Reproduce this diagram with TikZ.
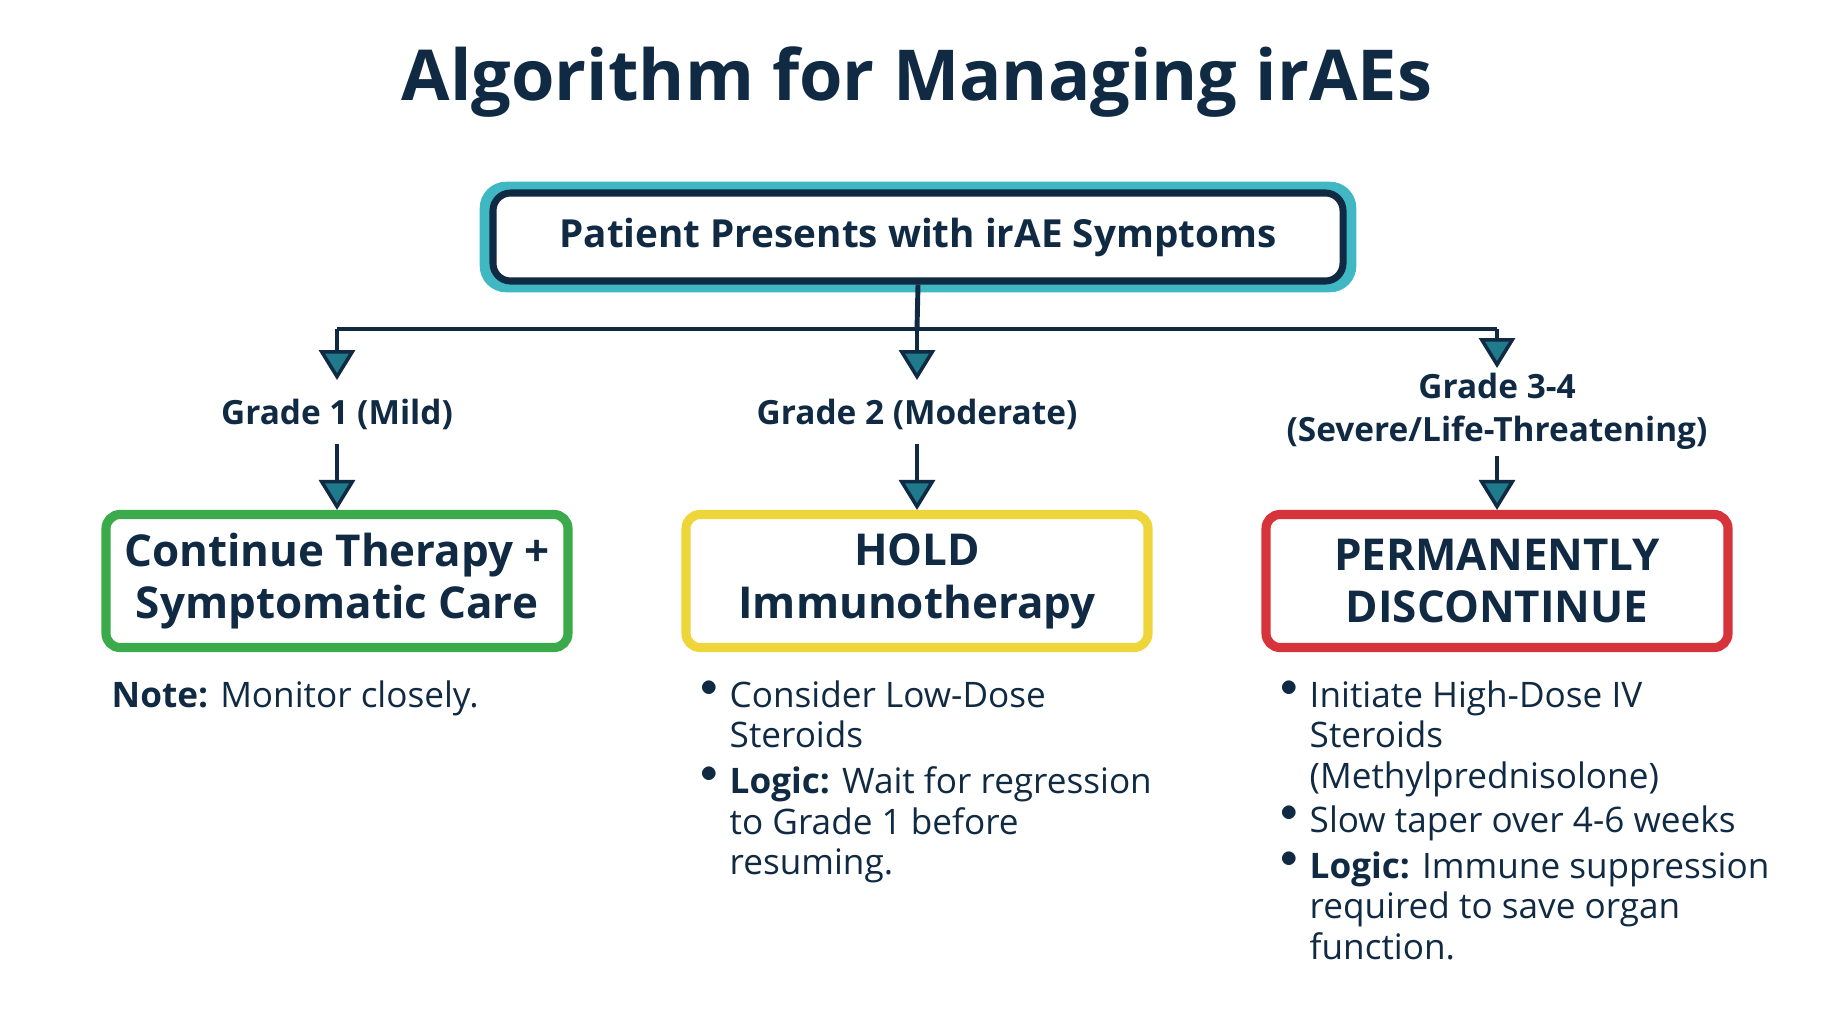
\documentclass[tikz,border=0pt]{standalone}
\usepackage{fontspec}
\setmainfont{Open Sans}
\usetikzlibrary{arrows.meta}
\definecolor{navy}{HTML}{102A43}
\definecolor{teal}{HTML}{1F7A8C}
\definecolor{glow}{HTML}{3FB8C4}
\definecolor{gg}{HTML}{3AAA4A}
\definecolor{yy}{HTML}{EED63A}
\definecolor{rr}{HTML}{D7333A}
\begin{document}
\begin{tikzpicture}[
  line/.style={draw=navy, line width=1.4pt},
  arr/.style={line, -{Triangle[width=0.36cm,length=0.3cm,fill=teal,line width=1pt]}},
  grade/.style={text=navy, font=\bfseries\fontsize{9.5}{12.3}\selectfont, align=center},
  box/.style={draw=#1, line width=2.6pt, rounded corners=4pt, minimum width=4.62cm, minimum height=1.33cm, align=center, text=navy, font=\bfseries\fontsize{12.5}{15}\selectfont},
  note/.style={text=navy, font=\fontsize{10}{11.5}\selectfont, anchor=north west, align=left, inner sep=0pt},
  dot/.style={text=navy, font=\fontsize{10}{11.5}\selectfont, anchor=north west, inner sep=0pt}
]
\useasboundingbox (0,0) rectangle (18.34,10.24);
\node[text=navy, font=\bfseries\fontsize{20}{24}\selectfont] (title) at (9.17,9.42) {Algorithm for Managing irAEs};
\node[draw=glow, line width=3pt, rounded corners=6pt, minimum width=8.66cm, minimum height=1.0cm] (topglow) at (9.18,7.87) {};
\node[draw=navy, line width=2pt, rounded corners=5pt, minimum width=8.5cm, minimum height=0.88cm, text=navy, font=\bfseries\fontsize{11}{14}\selectfont] (top) at (9.18,7.87) {Patient Presents with irAE Symptoms};
\coordinate (j) at (9.17,6.95);
\coordinate (jl) at (3.37,6.95);
\coordinate (jr) at (14.97,6.95);
\coordinate (tl) at (3.37,6.44);
\coordinate (tm) at (9.17,6.44);
\coordinate (tr) at (14.97,6.56);
\draw[line] (top.south) -- (j);
\draw[line] (jl) -- (jr);
\draw[arr] (jl) -- (tl);
\draw[arr] (j) -- (tm);
\draw[arr] (jr) -- (tr);
\node[grade] (g1) at (3.37,6.10) {Grade 1 (Mild)};
\node[grade] (g2) at (9.17,6.10) {Grade 2 (Moderate)};
\node[grade] (g3) at (14.97,6.13) {Grade 3-4\\(Severe/Life-Threatening)};
\node[box=gg] (b1) at (3.37,4.43) {Continue Therapy +\\Symptomatic Care};
\node[box=yy] (b2) at (9.17,4.43) {HOLD\\Immunotherapy};
\node[box=rr] (b3) at (14.97,4.43) {PERMANENTLY\\DISCONTINUE};
\draw[arr] (3.37,5.80) -- (b1.north);
\draw[arr] (9.17,5.80) -- (b2.north);
\draw[arr] (14.97,5.68) -- (b3.north);
\node[note] (n1) at (1.11,3.44) {\textbf{Note:} Monitor closely.};
\node[dot] (m1d) at (7.00,3.44) {$\bullet$};
\node[note] (m1) at (7.29,3.44) {Consider Low-Dose\\Steroids};
\node[dot] (m2d) at (7.00,2.58) {$\bullet$};
\node[note] (m2) at (7.29,2.58) {\textbf{Logic:} Wait for regression\\to Grade 1 before\\resuming.};
\node[dot] (r1d) at (12.80,3.44) {$\bullet$};
\node[note] (r1) at (13.09,3.44) {Initiate High-Dose IV\\Steroids\\(Methylprednisolone)};
\node[dot] (r2d) at (12.80,2.19) {$\bullet$};
\node[note] (r2) at (13.09,2.19) {Slow taper over 4-6 weeks};
\node[dot] (r3d) at (12.80,1.73) {$\bullet$};
\node[note] (r3) at (13.09,1.73) {\textbf{Logic:} Immune suppression\\required to save organ\\function.};
\end{tikzpicture}
\end{document}
